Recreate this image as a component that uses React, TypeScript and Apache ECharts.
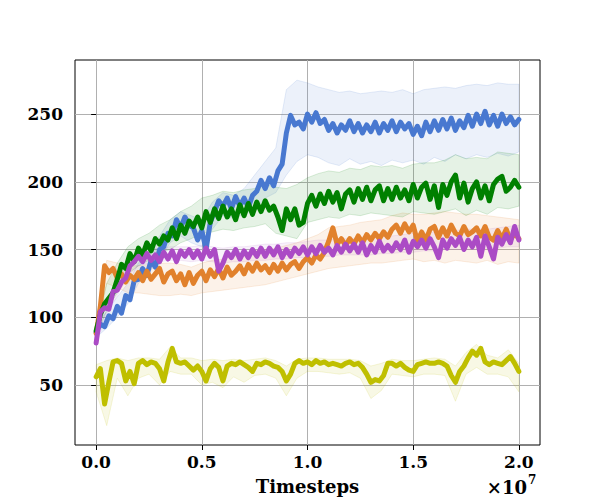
import { useEffect, useRef } from "react";
import * as echarts from "echarts";

// Timesteps are in units of 1e7 (axis shows "×10^7")
const MEAN_STEP = 0.02;
const BAND_STEP = 0.05;
const X_TICKS = [0, 0.5, 1.0, 1.5, 2.0];
const Y_TICKS = [50, 100, 150, 200, 250];
const X_LABEL = "Timesteps";

// Mean curves, sampled every 0.02e7 timesteps (0 .. 2.0e7)
const BLUE_MEAN = [
  89, 95, 93, 101, 99, 108, 103, 116, 113, 127,
  128, 136, 131, 142, 137, 150, 152, 162, 160, 172,
  166, 174, 168, 166, 157, 164, 150, 170, 178, 186,
  182, 188, 180, 189, 182, 188, 181, 190, 193, 201,
  195, 203, 197, 208, 213, 236, 249, 242, 244, 239,
  250, 244, 251, 243, 246, 238, 243, 236, 242, 238,
  245, 237, 243, 236, 242, 237, 244, 236, 243, 238,
  245, 237, 244, 239, 243, 235, 241, 234, 244, 237,
  245, 238, 246, 239, 247, 238, 245, 240, 249, 241,
  250, 243, 252, 242, 249, 241, 250, 243, 248, 242,
  246,
];
const GREEN_MEAN = [
  90, 102, 110, 114, 118, 128, 139, 136, 147, 141,
  151, 146, 155, 149, 158, 154, 160, 157, 166, 158,
  168, 162, 171, 167, 174, 166, 178, 170, 180, 173,
  182, 174, 180, 172, 183, 175, 184, 176, 185, 178,
  186, 179, 182, 174, 164, 180, 172, 180, 168, 170,
  184, 190, 182, 191, 184, 193, 185, 192, 180, 191,
  194, 185, 195, 187, 196, 186, 194, 197, 186, 195,
  187, 196, 188, 194, 186, 198, 188, 196, 199, 187,
  197, 181, 198, 190, 200, 205, 188, 199, 185, 195,
  200, 188, 197, 186, 198, 202, 204, 193, 196, 201,
  196,
];
const ORANGE_MEAN = [
  88, 108, 138, 133, 136, 129, 132, 126, 131, 128,
  133, 127, 134, 128, 132, 136, 126, 132, 134, 127,
  132, 124, 133, 125, 131, 134, 127, 135, 130, 136,
  129, 137, 131, 134, 138, 132, 139, 134, 140, 135,
  138, 133, 139, 134, 140, 135, 139, 141, 136, 141,
  144, 140, 146, 143, 148, 156, 166, 154, 158, 153,
  158, 154, 160, 155, 161, 157, 162, 158, 163, 159,
  165, 168, 162, 169, 163, 168, 156, 163, 157, 165,
  167, 159, 166, 160, 168, 162, 160, 167, 161, 163,
  166, 160, 167, 159, 157, 164, 158, 165, 157, 162,
  158,
];
const PURPLE_MEAN = [
  81, 104, 107, 106, 119, 120, 126, 129, 138, 141,
  145, 141, 147, 142, 146, 141, 148, 143, 149, 141,
  149, 145, 150, 144, 149, 143, 151, 145, 150, 134,
  140, 148, 144, 150, 143, 149, 144, 150, 145, 151,
  145, 151, 146, 152, 144, 150, 145, 151, 147, 152,
  146, 152, 147, 153, 148, 151, 146, 153, 148, 154,
  149, 154, 148, 155, 146, 153, 148, 156, 149, 153,
  149, 155, 150, 157, 148, 156, 152, 157, 151, 158,
  152, 144, 157, 151, 158, 153, 159, 150, 157, 152,
  159, 145, 160, 152, 143, 159, 154, 161, 155, 167,
  157,
];
const YELLOW_MEAN = [
  56, 62, 36, 52, 67, 68, 66, 53, 60, 51,
  66, 68, 65, 67, 66, 62, 53, 67, 77, 67,
  66, 67, 64, 61, 64, 60, 53, 62, 66, 63,
  53, 64, 66, 65, 67, 65, 63, 60, 66, 65,
  67, 66, 64, 63, 60, 53, 58, 66, 68, 66,
  67, 65, 68, 66, 67, 65, 66, 65, 64, 66,
  67, 65, 66, 63, 58, 52, 54, 53, 57, 66,
  66, 64, 66, 63, 61, 60, 65, 66, 67, 66,
  66, 67, 66, 64, 57, 52, 60, 64, 70, 75,
  72, 77, 67, 65, 67, 66, 65, 68, 71, 66,
  60,
];

// Shaded bands, sampled every 0.05e7 timesteps (0 .. 2.0e7)
const BLUE_LO = [
  85, 92, 100, 110, 125, 133, 142, 155, 160, 155,
  152, 165, 175, 173, 176, 180, 188, 192, 205, 215,
  220, 218, 214, 212, 217, 213, 215, 212, 216, 214,
  216, 213, 218, 215, 220, 217, 220, 218, 221, 219,
  222,
];
const BLUE_HI = [
  95, 104, 115, 125, 140, 148, 160, 172, 178, 175,
  172, 185, 192, 190, 195, 205, 215, 225, 268, 275,
  273, 270, 268, 266, 267, 265, 266, 267, 266, 268,
  265, 268, 269, 270, 269, 271, 272, 271, 273, 272,
  272,
];
const GREEN_LO = [
  85, 105, 118, 132, 138, 142, 148, 150, 155, 158,
  162, 163, 165, 164, 166, 167, 169, 162, 160, 158,
  170, 172, 174, 173, 176, 175, 177, 176, 175, 174,
  178, 177, 176, 178, 180, 175, 179, 176, 181, 180,
  182,
];
const GREEN_HI = [
  96, 125, 140, 152, 158, 162, 168, 172, 178, 182,
  188, 190, 193, 192, 194, 195, 198, 196, 195, 198,
  203, 206, 208, 207, 210, 209, 212, 211, 212, 210,
  213, 214, 214, 216, 220, 217, 218, 217, 222, 221,
  220,
];
const ORANGE_LO = [
  85, 125, 122, 118, 118, 117, 116, 116, 117, 116,
  118, 119, 120, 121, 122, 123, 124, 126, 128, 130,
  132, 134, 136, 137, 138, 139, 140, 140, 141, 142,
  143, 141, 142, 140, 142, 141, 140, 142, 139, 141,
  140,
];
const ORANGE_HI = [
  92, 142, 140, 138, 138, 139, 140, 140, 139, 137,
  140, 142, 143, 145, 147, 149, 150, 151, 153, 155,
  158, 161, 166, 167, 168, 170, 171, 172, 175, 177,
  176, 176, 177, 178, 177, 176, 176, 175, 174, 173,
  172,
];
const PURPLE_LO = [
  80, 103, 116, 130, 138, 140, 141, 142, 142, 141,
  142, 141, 140, 141, 141, 142, 142, 143, 143, 144,
  144, 145, 145, 146, 146, 146, 146, 147, 147, 148,
  148, 149, 149, 150, 150, 150, 150, 151, 151, 152,
  152,
];
const PURPLE_HI = [
  84, 112, 126, 140, 148, 150, 151, 152, 152, 152,
  153, 152, 151, 152, 152, 153, 154, 154, 155, 155,
  156, 157, 157, 158, 158, 159, 159, 160, 160, 161,
  162, 162, 163, 164, 164, 165, 165, 165, 166, 167,
  168,
];
const YELLOW_LO = [
  45, 20, 55, 42, 55, 58, 50, 60, 58, 58,
  50, 52, 48, 56, 52, 57, 58, 55, 42, 55,
  60, 60, 59, 58, 59, 55, 40, 46, 58, 57,
  56, 58, 58, 57, 38, 58, 63, 58, 58, 56,
  45,
];
const YELLOW_HI = [
  65, 68, 70, 68, 70, 70, 69, 78, 70, 70,
  68, 69, 68, 69, 68, 69, 70, 68, 64, 69,
  70, 70, 69, 69, 69, 68, 64, 66, 69, 68,
  68, 69, 70, 69, 64, 74, 80, 72, 70, 76,
  66,
];

const COLORS = {
  blue: "#4878d0",
  orange: "#e1812c",
  green: "#008000",
  purple: "#ab4bc5",
  yellow: "#bfbf00",
};

const FONT = "DejaVu Serif";

const meanX = BLUE_MEAN.map((_, i) => Math.round(i * MEAN_STEP * 100) / 100);
const bandX = BLUE_LO.map((_, i) => Math.round(i * BAND_STEP * 100) / 100);

function rgba(hex: string, a: number) {
  const n = parseInt(hex.slice(1), 16);
  return `rgba(${(n >> 16) & 255},${(n >> 8) & 255},${n & 255},${a})`;
}

function lineSeries(name: string, color: string, values: number[]) {
  return {
    type: "line",
    name,
    data: meanX.map((x, i) => [x, values[i]]),
    showSymbol: false,
    symbol: "none",
    silent: true,
    z: 3,
    lineStyle: { color, width: 5, cap: "round", join: "round" },
    itemStyle: { color },
  };
}

function bandSeries(name: string, color: string, lo: number[], hi: number[], alpha: number) {
  return {
    type: "custom",
    name,
    silent: true,
    z: 2,
    data: bandX.map((x, i) => [x, lo[i], hi[i]]),
    encode: { x: 0, y: [1, 2] },
    renderItem: (params: any, api: any) => {
      if (params.dataIndex !== 0) return null;
      const top = bandX.map((x, i) => api.coord([x, hi[i]]));
      const bot = bandX.map((x, i) => api.coord([x, lo[i]])).reverse();
      return {
        type: "polygon",
        shape: { points: top.concat(bot) },
        style: { fill: rgba(color, alpha), stroke: rgba(color, alpha * 1.4), lineWidth: 1 },
      };
    },
  };
}

export default function App() {
  const ref = useRef<HTMLDivElement>(null);
  useEffect(() => {
    document.body.style.margin = "0";
    const chart = echarts.init(ref.current!, null, { renderer: "svg" });
    const labelStyle = { color: "#000", fontFamily: FONT, fontWeight: "bold", fontSize: 17 };
    chart.setOption({
      animation: false,
      backgroundColor: "#fff",
      grid: {
        left: 75,
        right: 60,
        top: 60,
        bottom: 55,
        show: true,
        borderColor: "#000",
        borderWidth: 1,
        backgroundColor: "#fff",
        outerBoundsMode: "none",
      },
      xAxis: {
        type: "value",
        min: -0.1,
        max: 2.1,
        name: X_LABEL,
        nameLocation: "middle",
        nameGap: 32,
        nameTextStyle: { ...labelStyle, fontSize: 18 },
        axisLine: { show: false },
        axisTick: { show: true, inside: false, length: 5, customValues: X_TICKS, lineStyle: { color: "#000", width: 1 } },
        axisLabel: { ...labelStyle, margin: 8, customValues: X_TICKS, formatter: (v: number) => v.toFixed(1) },
        splitLine: { show: true, lineStyle: { color: "#b0b0b0", width: 1 } },
      },
      yAxis: {
        type: "value",
        min: 5.7,
        max: 289.9,
        axisLine: { show: false },
        axisTick: { show: true, inside: false, length: 5, customValues: Y_TICKS, lineStyle: { color: "#000", width: 1 } },
        axisLabel: { ...labelStyle, margin: 12, customValues: Y_TICKS },
        splitLine: { show: true, lineStyle: { color: "#b0b0b0", width: 1 } },
      },
      graphic: [
        {
          type: "text",
          x: 527,
          y: 487,
          style: { text: "×10", font: `bold 18px "${FONT}"`, fill: "#000", textAlign: "right", textVerticalAlign: "middle", align: "right", verticalAlign: "middle" },
        },
        {
          type: "text",
          x: 528,
          y: 480,
          style: { text: "7", font: `bold 12px "${FONT}"`, fill: "#000", textAlign: "left", textVerticalAlign: "middle", align: "left", verticalAlign: "middle" },
        },
      ],
      series: [
        bandSeries("blue band", COLORS.blue, BLUE_LO, BLUE_HI, 0.1),
        bandSeries("orange band", COLORS.orange, ORANGE_LO, ORANGE_HI, 0.1),
        bandSeries("green band", COLORS.green, GREEN_LO, GREEN_HI, 0.1),
        bandSeries("purple band", COLORS.purple, PURPLE_LO, PURPLE_HI, 0.08),
        bandSeries("yellow band", COLORS.yellow, YELLOW_LO, YELLOW_HI, 0.1),
        lineSeries("blue", COLORS.blue, BLUE_MEAN),
        lineSeries("orange", COLORS.orange, ORANGE_MEAN),
        lineSeries("green", COLORS.green, GREEN_MEAN),
        lineSeries("purple", COLORS.purple, PURPLE_MEAN),
        lineSeries("yellow", COLORS.yellow, YELLOW_MEAN),
      ],
    });
    return () => chart.dispose();
  }, []);
  return <div ref={ref} style={{ width: 600, height: 500 }} />;
}
